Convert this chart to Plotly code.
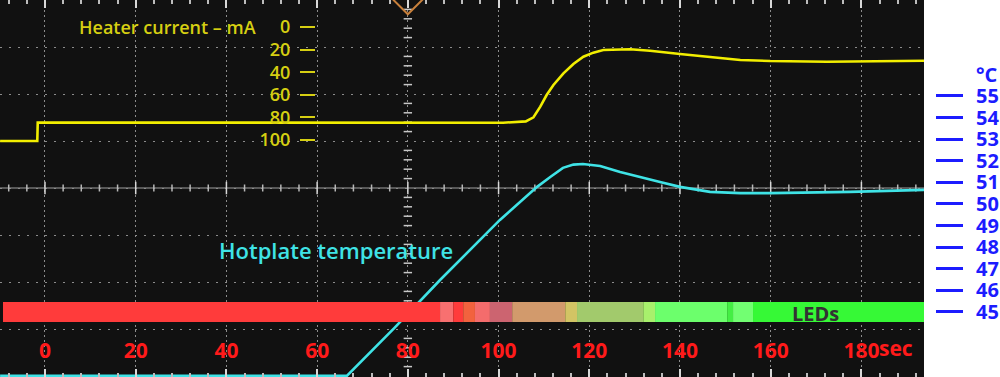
import numpy as np
import plotly.graph_objects as go

# ---------------- data ----------------
time_ticks = [0, 20, 40, 60, 80, 100, 120, 140, 160, 180]
time_labels = ["0", "20", "40", "60", "80", "100", "120", "140", "160", "180"]

current_ticks = [0, 20, 40, 60, 80, 100]
temp_ticks = [45, 46, 47, 48, 49, 50, 51, 52, 53, 54, 55]

# heater current trace (mA) vs time (s)
cur_t = [-9.9, -1.7, -1.6, 20.0, 60.0, 101.0, 106.0, 107.7, 109.2, 110.6, 112.1,
         114.3, 116.5, 118.7, 120.9, 123.1, 129.0, 133.4, 140.0, 146.6, 153.3,
         159.9, 172.4, 193.8]
cur_mA = [100.9, 100.9, 84.5, 84.6, 84.5, 84.7, 83.5, 79.9, 70.5, 60.2, 51.3,
          41.0, 32.7, 26.3, 22.7, 20.4, 19.7, 21.0, 23.9, 26.8, 29.2,
          30.1, 30.7, 29.8]

# hotplate temperature trace (deg C) vs time (s); scope clips at the bottom edge
temp_t = [-9.9, 66.6, 77.0, 87.1, 100.3, 108.5, 111.4, 114.2, 116.5, 118.6,
          122.4, 126.8, 135.6, 140.0, 146.6, 153.3, 159.9, 177.5, 193.8]
temp_C = [42.05, 42.05, 44.25, 46.48, 49.26, 50.79, 51.25, 51.67, 51.82, 51.85,
          51.76, 51.48, 51.02, 50.79, 50.56, 50.50, 50.50, 50.56, 50.65]

# LED colour bar segments (start time, s) and colours
led_start = [-9.26, 87.1, 90.0, 92.2, 94.8, 98.1, 103.0, 114.7, 117.3, 131.9,
             134.5, 150.4, 151.7, 156.1]
led_end_time = 193.8
led_colors = ["#ff3b3b", "#f87070", "#ff3b3b", "#f2623e", "#f46c6c", "#cc6470",
              "#d29a6c", "#d2c464", "#a2ca6c", "#a8f06c", "#6cff6c", "#44ee44",
              "#72ff72", "#36f936"]

# ---------------- layout constants ----------------
XD = 0.924
x_range = [-9.92, 193.8]
cur_range = [309.7, -23.9]
temp_range = [41.99, 59.44]
div_range = [377 / 47, 0]

YEL_TXT = "#d6cf12"
YEL_LINE = "#f2ee00"
CYAN = "#3fe3e6"
BLUE = "#1c1cff"
RED = "#ff1a1a"
GRID = "#8c8c8c"
FONT = "Open Sans"

fig = go.Figure()

# dummy trace to activate label axis x2
fig.add_trace(go.Scatter(x=[0], y=[0], xaxis="x2", yaxis="y3", mode="markers",
                         marker=dict(opacity=0), hoverinfo="skip", showlegend=False))

# centre graticule tick marks
minor_t = np.arange(-8, 194, 4)
is_major = (np.abs(minor_t % 20) < 1e-9)
fig.add_trace(go.Scatter(x=minor_t[~is_major], y=[4] * int((~is_major).sum()),
                         xaxis="x", yaxis="y3", mode="markers",
                         marker=dict(symbol="line-ns-open", size=5, color="#b8b8b8",
                                     line=dict(color="#b8b8b8", width=1.5)),
                         hoverinfo="skip", showlegend=False))
fig.add_trace(go.Scatter(x=minor_t[is_major], y=[4] * int(is_major.sum()),
                         xaxis="x", yaxis="y3", mode="markers",
                         marker=dict(symbol="line-ns-open", size=9, color="#d8d8d8",
                                     line=dict(color="#d8d8d8", width=1.5)),
                         hoverinfo="skip", showlegend=False))
vdiv = np.round(np.arange(0, 8.01, 0.2), 3)
vmaj = np.abs(vdiv - np.round(vdiv)) < 1e-6
fig.add_trace(go.Scatter(x=[80] * int((~vmaj).sum()), y=vdiv[~vmaj],
                         xaxis="x", yaxis="y3", mode="markers",
                         marker=dict(symbol="line-ew-open", size=6, color="#c8c8c8",
                                     line=dict(color="#c8c8c8", width=1.5)),
                         hoverinfo="skip", showlegend=False))

# trigger marker at top
fig.add_trace(go.Scatter(x=[80], y=[0], xaxis="x", yaxis="y3", mode="markers",
                         marker=dict(symbol="diamond-open", size=22, color="#c8803c",
                                     line=dict(color="#c8803c", width=2)),
                         cliponaxis=False, hoverinfo="skip", showlegend=False))

# heater current
fig.add_trace(go.Scatter(x=cur_t, y=cur_mA, xaxis="x", yaxis="y", mode="lines",
                         line=dict(color=YEL_LINE, width=2.6),
                         name="Heater current", showlegend=False))

# hotplate temperature
fig.add_trace(go.Scatter(x=temp_t, y=temp_C, xaxis="x", yaxis="y2", mode="lines",
                         line=dict(color=CYAN, width=2.6),
                         name="Hotplate temperature", showlegend=False))

# LED bar
led_ends = led_start[1:] + [led_end_time]
led_w = [e - s for s, e in zip(led_start, led_ends)]
fig.add_trace(go.Bar(x=led_w, base=led_start, y=[312 / 47] * len(led_start),
                     orientation="h", width=20 / 47, xaxis="x", yaxis="y4",
                     marker=dict(color=led_colors, line=dict(width=0)),
                     hoverinfo="skip", showlegend=False))

fig.update_layout(
    width=1000, height=377,
    margin=dict(l=0, r=0, t=0, b=0),
    paper_bgcolor="white",
    plot_bgcolor="#111111",
    barmode="overlay",
    showlegend=False,
    font=dict(family=FONT),
    xaxis=dict(domain=[0, XD], range=x_range, anchor="y3",
               showgrid=True, gridcolor=GRID, griddash="2px,3px", gridwidth=1,
               tick0=0, dtick=20, showticklabels=False,
               ticks="inside", ticklen=8, tickcolor="#d8d8d8", tickwidth=1.5,
               minor=dict(dtick=4, tick0=0, ticks="inside", ticklen=4,
                          tickcolor="#bdbdbd", tickwidth=1.5, showgrid=False),
               showline=True, linecolor="#b0b0b0", linewidth=1, mirror="ticks",
               zeroline=False, fixedrange=True),
    xaxis2=dict(domain=[0, XD], range=x_range, overlaying="x", anchor="free",
                position=0.108, side="bottom", tickmode="array",
                tickvals=time_ticks, ticktext=time_labels, ticks="",
                tickfont=dict(color=RED, size=21, family=FONT, weight="bold"),
                showgrid=False, showline=False, zeroline=False),
    yaxis3=dict(domain=[0, 1], range=div_range, anchor="x",
                showgrid=True, gridcolor=GRID, griddash="2px,7px", gridwidth=1,
                tick0=0, dtick=1, showticklabels=False, ticks="",
                zeroline=False, showline=False),
    yaxis=dict(overlaying="y3", range=cur_range, anchor="free", position=0.315,
               side="left", tickmode="array", tickvals=current_ticks,
               ticks="outside", ticklen=15, tickwidth=2, tickcolor=YEL_TXT,
               ticklabelstandoff=6,
               tickfont=dict(color=YEL_TXT, size=18, family=FONT, weight=600),
               showgrid=False, zeroline=False, showline=False),
    yaxis2=dict(overlaying="y3", range=temp_range, anchor="free", position=0.935,
                side="right", tickmode="array", tickvals=temp_ticks,
                ticks="outside", ticklen=27, tickwidth=3, tickcolor=BLUE,
                ticklabelstandoff=9,
                tickfont=dict(color=BLUE, size=20, family=FONT, weight="bold"),
                showgrid=False, zeroline=False, showline=False),
    yaxis4=dict(overlaying="y3", range=div_range, visible=False),
)

# centre horizontal graticule line
fig.add_shape(type="line", xref="x domain", yref="y3", x0=0, x1=1, y0=4, y1=4,
              line=dict(color="#a0a0a0", width=1.2), layer="below")

# text labels
fig.add_annotation(text="Heater current \u2013 mA", xref="paper", yref="paper",
                   x=0.258, y=1 - 27 / 377, xanchor="right", yanchor="middle",
                   showarrow=False,
                   font=dict(color=YEL_TXT, size=18, family=FONT, weight=600))
fig.add_annotation(text="Hotplate temperature", xref="paper", yref="paper",
                   x=0.217, y=1 - 250 / 377, xanchor="left", yanchor="middle",
                   showarrow=False,
                   font=dict(color=CYAN, size=22, family=FONT, weight=600))
fig.add_annotation(text="\u00b0C", xref="paper", yref="paper",
                   x=0.974, y=1 - 75 / 377, xanchor="left", yanchor="middle",
                   showarrow=False,
                   font=dict(color=BLUE, size=20, family=FONT, weight="bold"))
fig.add_annotation(text="LEDs", xref="paper", yref="paper",
                   x=0.815, y=1 - 313 / 377, xanchor="center", yanchor="middle",
                   showarrow=False,
                   font=dict(color="#333333", size=20, family=FONT, weight="bold"))
fig.add_annotation(text="sec", xref="paper", yref="paper",
                   x=0.877, y=1 - 348 / 377, xanchor="left", yanchor="middle",
                   showarrow=False,
                   font=dict(color=RED, size=21, family=FONT, weight="bold"))

fig.write_html("out.html",
               config={"displayModeBar": False},
               post_script="document.body.style.margin='0';"
                           "document.body.style.overflow='hidden';")
